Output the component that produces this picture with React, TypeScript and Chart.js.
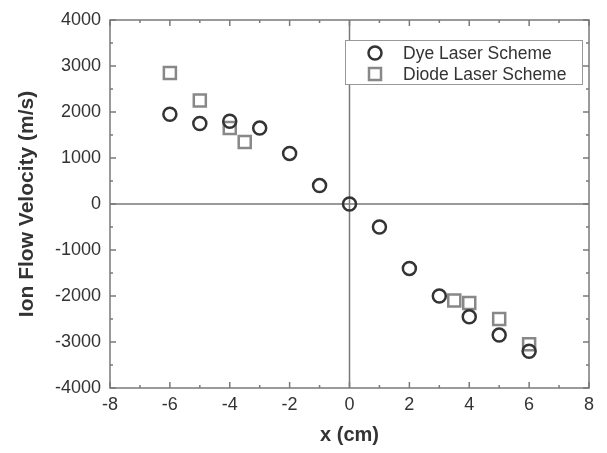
import React, { useEffect, useRef } from "react";
import { Chart, registerables } from "chart.js";

Chart.register(...registerables);

const dyeX = [-6, -5, -4, -3, -2, -1, 0, 1, 2, 3, 4, 5, 6];
const dyeY = [1950, 1750, 1800, 1650, 1100, 400, 0, -500, -1400, -2000, -2450, -2850, -3200];
const diodeX = [-6, -5, -4, -3.5, 3.5, 4, 5, 6];
const diodeY = [2850, 2250, 1650, 1350, -2100, -2150, -2500, -3050];
const seriesNames = ["Dye Laser Scheme", "Diode Laser Scheme"];
const xTitle = "x (cm)";
const yTitle = "Ion Flow Velocity (m/s)";

const FONT = "'Liberation Sans', Arial, sans-serif";
const AXIS = "#7a7a7a";
const TEXT = "#333";

const framePlugin = {
  id: "frame",
  beforeDatasetsDraw(chart: any) {
    const { ctx, chartArea: a, scales } = chart;
    const xs = scales.x, ys = scales.y;
    ctx.save();
    ctx.strokeStyle = AXIS;
    ctx.lineWidth = 1.5;
    const x0 = xs.getPixelForValue(0);
    const y0 = ys.getPixelForValue(0);
    ctx.beginPath();
    ctx.moveTo(x0, a.top); ctx.lineTo(x0, a.bottom);
    ctx.moveTo(a.left, y0); ctx.lineTo(a.right, y0);
    ctx.stroke();
    ctx.strokeRect(a.left, a.top, a.right - a.left, a.bottom - a.top);
    ctx.beginPath();
    for (let v = xs.min; v <= xs.max + 1e-9; v += 1) {
      const p = xs.getPixelForValue(v);
      const len = Math.round(v) % 2 === 0 ? 6 : 3;
      ctx.moveTo(p, a.bottom); ctx.lineTo(p, a.bottom - len);
      ctx.moveTo(p, a.top); ctx.lineTo(p, a.top + len);
    }
    for (let v = ys.min; v <= ys.max + 1e-9; v += 500) {
      const p = ys.getPixelForValue(v);
      const len = Math.round(v) % 1000 === 0 ? 6 : 3;
      ctx.moveTo(a.left, p); ctx.lineTo(a.left + len, p);
      ctx.moveTo(a.right, p); ctx.lineTo(a.right - len, p);
    }
    ctx.stroke();
    ctx.restore();
  },
  afterDraw(chart: any) {
    const { ctx } = chart;
    const bx = 345, by = 40, bw = 237, bh = 44;
    ctx.save();
    ctx.fillStyle = "#fff";
    ctx.fillRect(bx, by, bw, bh);
    ctx.strokeStyle = "#999";
    ctx.lineWidth = 1;
    ctx.strokeRect(bx + 0.5, by + 0.5, bw, bh);
    chart.data.datasets.forEach((ds: any, i: number) => {
      const cy = by + 13 + i * 21;
      ctx.strokeStyle = ds.pointBorderColor;
      ctx.lineWidth = ds.pointBorderWidth;
      ctx.beginPath();
      if (ds.pointStyle === "rect") {
        const s = Math.SQRT1_2 * ds.pointRadius;
        ctx.rect(375 - s, cy - s, 2 * s, 2 * s);
      } else {
        ctx.arc(375, cy, ds.pointRadius, 0, Math.PI * 2);
      }
      ctx.stroke();
      ctx.fillStyle = TEXT;
      ctx.font = `17.5px ${FONT}`;
      ctx.textBaseline = "middle";
      ctx.textAlign = "left";
      ctx.fillText(ds.label, 403, cy + 1);
    });
    ctx.restore();
  },
};

export default function App() {
  const ref = useRef<HTMLCanvasElement>(null);
  useEffect(() => {
    document.body.style.margin = "0";
    const chart = new Chart(ref.current!, {
      type: "scatter",
      data: {
        datasets: [
          {
            label: seriesNames[0],
            data: dyeX.map((x, i) => ({ x, y: dyeY[i] })),
            pointStyle: "circle",
            pointRadius: 6.5,
            pointBorderWidth: 2.5,
            pointBorderColor: "#333",
            pointBackgroundColor: "rgba(0,0,0,0)",
          },
          {
            label: seriesNames[1],
            data: diodeX.map((x, i) => ({ x, y: diodeY[i] })),
            pointStyle: "rect",
            pointRadius: 8.5,
            pointBorderWidth: 2.5,
            pointBorderColor: "#888",
            pointBackgroundColor: "rgba(0,0,0,0)",
          },
        ] as any,
      },
      options: {
        animation: false,
        responsive: false,
        layout: { padding: { top: 20, right: 18, left: 0, bottom: 0 } },
        plugins: { legend: { display: false }, tooltip: { enabled: false } },
        scales: {
          x: {
            type: "linear",
            min: -8,
            max: 8,
            grid: { display: false, drawTicks: false },
            border: { display: false },
            ticks: { stepSize: 2, padding: 6, color: TEXT, font: { size: 18, family: FONT }, callback: (v: any) => String(v) },
            title: { display: true, text: xTitle, color: TEXT, padding: 6, font: { size: 20, weight: "bold", family: FONT } },
            afterFit: (s: any) => { s.height = 65; },
          },
          y: {
            type: "linear",
            min: -4000,
            max: 4000,
            grid: { display: false, drawTicks: false },
            border: { display: false },
            ticks: { stepSize: 1000, padding: 9, color: TEXT, font: { size: 18, family: FONT }, callback: (v: any) => String(v) },
            title: { display: true, text: yTitle, color: TEXT, padding: 15, font: { size: 21, weight: "bold", family: FONT } },
            afterFit: (s: any) => { s.width = 110; },
          },
        },
      } as any,
      plugins: [framePlugin],
    });
    return () => chart.destroy();
  }, []);
  return (
    <div style={{ width: 607, height: 453 }}>
      <canvas ref={ref} width={607} height={453} />
    </div>
  );
}
